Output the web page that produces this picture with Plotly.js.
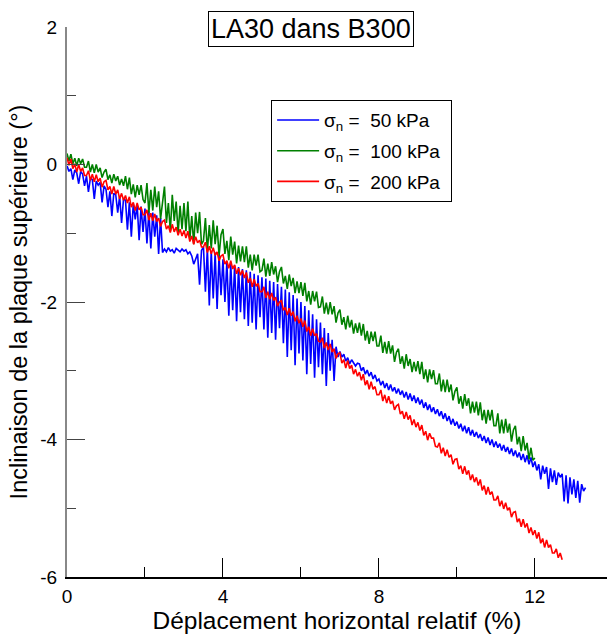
<!DOCTYPE html>
<html>
<head>
<meta charset="utf-8">
<script src="https://cdn.plot.ly/plotly-3.0.1.min.js"></script>
<style>html,body{margin:0;padding:0;background:#fff;}#chart{width:607px;height:635px;}</style>
</head>
<body>
<div id="chart"></div>
<script>
// Horizontal step of the recorded series (% displacement)
const xStep = 0.05;

const seriesNames = ['σ<sub>n</sub> =\u00a0 50 kPa\u00a0', 'σ<sub>n</sub> =\u00a0 100 kPa\u00a0', 'σ<sub>n</sub> =\u00a0 200 kPa\u00a0'];

// sigma_n = 50 kPa (blue)
const y50 = [
-0.02,-0.10,-0.06,-0.22,-0.08,-0.12,-0.28,-0.10,-0.14,-0.31,
-0.17,-0.40,-0.20,-0.22,-0.50,-0.24,-0.30,-0.26,-0.55,-0.31,
-0.36,-0.62,-0.39,-0.75,-0.42,-0.44,-0.70,-0.46,-0.85,-0.50,
-0.52,-0.95,-0.55,-1.05,-0.57,-0.80,-0.59,-1.10,-0.61,-0.98,
-0.64,-1.15,-0.68,-1.22,-0.70,-1.05,-0.74,-1.30,-0.78,-1.28,
-1.23,-1.27,-1.21,-1.26,-1.24,-1.29,-1.22,-1.25,-1.27,-1.23,
-1.26,-1.24,-1.30,-1.27,-1.33,-1.45,-1.38,-1.30,-1.75,-1.25,
-1.20,-1.85,-1.22,-2.05,-1.26,-1.95,-1.28,-2.10,-1.32,-1.90,
-1.38,-2.00,-1.41,-2.20,-1.44,-2.12,-1.47,-2.28,-1.49,-2.15,
-1.52,-2.25,-1.54,-2.35,-1.56,-2.30,-1.59,-2.40,-1.61,-2.22,
-1.64,-2.40,-1.66,-2.52,-1.69,-2.45,-1.71,-2.55,-1.74,-2.38,
-1.78,-2.60,-1.82,-2.80,-1.86,-2.70,-1.90,-2.92,-1.95,-2.75,
-2.00,-2.85,-2.06,-3.05,-2.12,-2.90,-2.18,-3.10,-2.25,-2.95,
-2.30,-3.05,-2.38,-3.22,-2.45,-3.00,-2.55,-3.15,-2.65,-2.80,
-2.72,-2.80,-2.76,-2.86,-2.81,-2.90,-2.84,-2.88,-2.93,-2.89,
-2.90,-3.00,-2.95,-3.05,-2.99,-3.08,-3.02,-3.12,-3.06,-3.15,
-3.12,-3.21,-3.15,-3.25,-3.18,-3.28,-3.20,-3.30,-3.24,-3.33,
-3.26,-3.35,-3.29,-3.39,-3.31,-3.42,-3.33,-3.44,-3.36,-3.47,
-3.39,-3.49,-3.42,-3.54,-3.46,-3.57,-3.49,-3.60,-3.53,-3.63,
-3.56,-3.66,-3.59,-3.70,-3.62,-3.73,-3.66,-3.78,-3.70,-3.80,
-3.74,-3.84,-3.77,-3.88,-3.80,-3.91,-3.82,-3.94,-3.86,-3.96,
-3.89,-3.98,-3.92,-4.02,-3.95,-4.05,-3.97,-4.08,-4.00,-4.11,
-4.03,-4.12,-4.06,-4.16,-4.08,-4.18,-4.11,-4.21,-4.13,-4.24,
-4.16,-4.26,-4.19,-4.30,-4.21,-4.33,-4.23,-4.36,-4.26,-4.40,
-4.32,-4.45,-4.36,-4.58,-4.38,-4.50,-4.40,-4.72,-4.42,-4.62,
-4.45,-4.66,-4.48,-4.55,-4.50,-4.90,-4.52,-4.93,-4.55,-4.80,
-4.58,-4.85,-4.60,-4.92,-4.65,-4.75,-4.70
];

// sigma_n = 100 kPa (green)
const y100 = [
0.16,0.05,0.15,0.01,0.09,-0.02,0.09,0.01,0.08,-0.04,
-0.04,0.05,-0.11,0.00,-0.12,0.00,-0.11,-0.05,-0.19,-0.11,
-0.07,-0.22,-0.15,-0.27,-0.14,-0.24,-0.17,-0.30,-0.21,-0.31,
-0.17,-0.36,-0.19,-0.43,-0.29,-0.48,-0.30,-0.44,-0.30,-0.51,
-0.56,-0.27,-0.70,-0.37,-0.67,-0.32,-0.62,-0.39,-0.79,-0.51,
-0.32,-0.85,-0.56,-0.97,-0.44,-0.82,-0.54,-1.00,-0.60,-0.94,
-0.56,-0.97,-0.54,-1.09,-0.75,-1.16,-0.70,-1.00,-0.69,-1.16,
-1.11,-0.78,-1.26,-0.88,-1.22,-0.81,-1.16,-0.89,-1.33,-1.02,
-0.94,-1.30,-1.11,-1.39,-1.05,-1.31,-1.12,-1.44,-1.18,-1.41,
-1.19,-1.42,-1.19,-1.50,-1.31,-1.54,-1.31,-1.47,-1.31,-1.56,
-1.54,-1.37,-1.63,-1.44,-1.62,-1.42,-1.60,-1.48,-1.71,-1.56,
-1.49,-1.73,-1.62,-1.81,-1.60,-1.77,-1.65,-1.87,-1.70,-1.87,
-1.71,-1.91,-1.72,-1.99,-1.84,-2.04,-1.84,-1.99,-1.85,-2.08,
-2.07,-1.92,-2.17,-2.01,-2.18,-2.00,-2.18,-2.06,-2.30,-2.16,
-2.11,-2.33,-2.22,-2.40,-2.20,-2.37,-2.26,-2.46,-2.31,-2.45,
-2.30,-2.49,-2.32,-2.56,-2.42,-2.61,-2.43,-2.57,-2.43,-2.64,
-2.64,-2.49,-2.74,-2.58,-2.75,-2.57,-2.75,-2.63,-2.87,-2.73,
-2.68,-2.90,-2.79,-2.97,-2.76,-2.93,-2.83,-3.02,-2.87,-3.01,
-2.86,-3.05,-2.87,-3.12,-2.98,-3.17,-2.98,-3.12,-2.99,-3.19,
-3.19,-3.04,-3.30,-3.13,-3.31,-3.13,-3.31,-3.20,-3.43,-3.30,
-3.24,-3.48,-3.37,-3.55,-3.34,-3.51,-3.40,-3.62,-3.45,-3.61,
-3.45,-3.65,-3.46,-3.72,-3.57,-3.77,-3.57,-3.72,-3.57,-3.80,
-3.80,-3.62,-3.91,-3.71,-3.91,-3.70,-3.90,-3.77,-4.03,-3.86,
-3.80,-4.07,-3.96,-4.17,-3.95,-4.16,-4.05,-4.29,-4.12,-4.30,
-4.27
];

// sigma_n = 200 kPa (red)
const y200 = [
0.10,-0.01,0.08,-0.06,0.01,-0.11,0.00,-0.10,-0.05,-0.16,
-0.16,-0.09,-0.23,-0.14,-0.25,-0.15,-0.25,-0.20,-0.33,-0.25,
-0.23,-0.37,-0.32,-0.43,-0.32,-0.43,-0.37,-0.50,-0.42,-0.52,
-0.45,-0.56,-0.47,-0.62,-0.55,-0.67,-0.56,-0.66,-0.62,-0.73,
-0.73,-0.66,-0.81,-0.71,-0.82,-0.72,-0.83,-0.78,-0.90,-0.83,
-0.81,-0.94,-0.89,-0.99,-0.87,-0.98,-0.91,-1.03,-0.94,-1.04,
-0.96,-1.07,-0.97,-1.12,-1.04,-1.16,-1.05,-1.14,-1.10,-1.20,
-1.20,-1.13,-1.28,-1.19,-1.30,-1.21,-1.32,-1.27,-1.40,-1.33,
-1.31,-1.45,-1.40,-1.51,-1.40,-1.52,-1.46,-1.59,-1.51,-1.61,
-1.54,-1.65,-1.57,-1.72,-1.65,-1.78,-1.67,-1.77,-1.73,-1.85,
-1.85,-1.78,-1.94,-1.85,-1.96,-1.87,-1.98,-1.93,-2.06,-2.00,
-1.98,-2.12,-2.08,-2.19,-2.09,-2.20,-2.14,-2.28,-2.20,-2.31,
-2.24,-2.36,-2.27,-2.43,-2.36,-2.49,-2.39,-2.49,-2.46,-2.57,
-2.58,-2.52,-2.67,-2.59,-2.70,-2.61,-2.73,-2.68,-2.82,-2.75,
-2.74,-2.89,-2.84,-2.96,-2.85,-2.97,-2.92,-3.05,-2.98,-3.08,
-3.02,-3.14,-3.05,-3.21,-3.14,-3.27,-3.16,-3.27,-3.23,-3.35,
-3.35,-3.28,-3.44,-3.35,-3.47,-3.37,-3.48,-3.44,-3.57,-3.51,
-3.49,-3.63,-3.59,-3.70,-3.60,-3.71,-3.65,-3.79,-3.71,-3.82,
-3.75,-3.87,-3.79,-3.94,-3.88,-4.01,-3.91,-3.98,-3.98,-4.10,
-4.11,-4.05,-4.20,-4.12,-4.24,-4.15,-4.26,-4.22,-4.36,-4.29,
-4.28,-4.43,-4.38,-4.50,-4.39,-4.51,-4.45,-4.59,-4.51,-4.62,
-4.55,-4.67,-4.58,-4.74,-4.67,-4.80,-4.69,-4.80,-4.76,-4.88,
-4.88,-4.82,-4.97,-4.89,-5.01,-4.92,-5.03,-4.99,-5.13,-5.06,
-5.05,-5.20,-5.15,-5.27,-5.16,-5.28,-5.22,-5.36,-5.28,-5.39,
-5.32,-5.44,-5.35,-5.51,-5.44,-5.57,-5.46,-5.57,-5.53,-5.65,
-5.65,-5.59,-5.72,-5.65,-5.75
];

const seriesColors = ['#0000ff', '#008000', '#ff0000'];

const xTickVals = [0, 4, 8, 12];
const xTickText = ['0', '4', '8', '12'];
const xMinorVals = [2, 6, 10];
const yTickVals = [-6, -4, -2, 0, 2];
const yTickText = ['-6', '-4', '-2', '0', '2'];
const yMinorVals = [-5, -3, -1, 1];

const chartTitle = 'LA30 dans B300';
const xTitle = 'Déplacement horizontal relatif (%)';
const yTitle = 'Inclinaison de la plaque supérieure (°)';

const ys = [y50, y100, y200];
const traces = ys.map((y, i) => ({
  type: 'scatter', mode: 'lines',
  x0: 0, dx: xStep, y: y,
  name: seriesNames[i],
  legendgroup: 'g' + i,
  line: {color: seriesColors[i], width: 1.6},
  hoverinfo: 'skip'
}));

const FONT = 'Liberation Sans, Arial, sans-serif';

const layout = {
  width: 607, height: 635,
  margin: {l: 67, r: 0, t: 27, b: 58, pad: 0},
  paper_bgcolor: '#ffffff', plot_bgcolor: '#ffffff',
  font: {family: FONT, size: 19, color: '#000'},
  showlegend: true,
  hovermode: false,
  xaxis: {
    range: [0, 13.85], showgrid: false, zeroline: false,
    showline: true, linecolor: '#000', linewidth: 1.5,
    ticks: 'inside', ticklen: 19, tickwidth: 1, tickcolor: '#000',
    tickmode: 'array', tickvals: xTickVals, ticktext: xTickText,
    tickfont: {size: 19, family: FONT},
    ticklabelstandoff: 2,
    minor: {ticks: 'inside', ticklen: 10, tickwidth: 1, tickcolor: '#000', tickmode: 'array', tickvals: xMinorVals},
    title: {text: xTitle, font: {size: 24.5, family: FONT}, standoff: 2}
  },
  yaxis: {
    range: [-6, 2], showgrid: false, zeroline: false,
    showline: true, linecolor: '#888', linewidth: 2,
    ticks: 'inside', ticklen: 18, tickwidth: 1, tickcolor: '#444',
    tickmode: 'array', tickvals: yTickVals, ticktext: yTickText,
    tickfont: {size: 19, family: FONT},
    ticklabelstandoff: 4,
    minor: {ticks: 'inside', ticklen: 9, tickwidth: 1, tickcolor: '#444', tickmode: 'array', tickvals: yMinorVals},
    title: {text: yTitle, font: {size: 23.5, family: FONT}, standoff: 6}
  },
  legend: {
    x: 0.378, y: 0.867, xanchor: 'left', yanchor: 'top',
    bgcolor: '#fff', bordercolor: '#000', borderwidth: 1,
    font: {size: 19, family: FONT, color: '#000'},
    itemwidth: 42, tracegroupgap: 3
  },
  annotations: [{
    text: chartTitle, xref: 'paper', yref: 'paper',
    x: 0.452, y: 0.996, xanchor: 'center', yanchor: 'middle',
    showarrow: false, font: {size: 27, family: FONT, color: '#000'},
    bordercolor: '#000', borderwidth: 1, borderpad: 2, bgcolor: '#fff'
  }]
};

Plotly.newPlot('chart', traces, layout, {displayModeBar: false, staticPlot: true});
</script>
</body>
</html>
